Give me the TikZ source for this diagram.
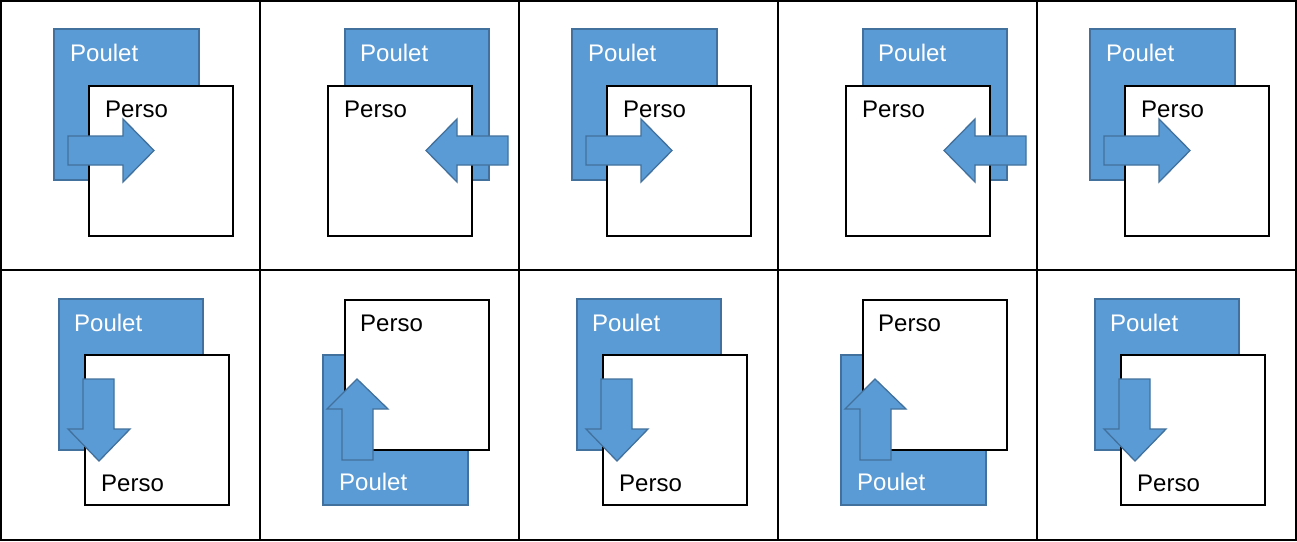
\documentclass[tikz,border=0pt]{standalone}
\usepackage{fontspec}
\setmainfont{Liberation Sans}
\definecolor{pfill}{HTML}{5B9BD5}
\definecolor{pdraw}{HTML}{41719C}
\tikzset{
  pouletbox/.style={fill=pfill,draw=pdraw,line width=1.5pt},
  persobox/.style={fill=white,draw=black,line width=2pt},
  arrowshape/.style={fill=pfill,draw=pdraw,line width=1.3pt,line join=miter},
  lbl/.style={anchor=base west,inner sep=0pt,font=\fontsize{24}{28}\selectfont},
  grid/.style={draw=black,line width=2pt}
}
\newcommand{\mycellR}[2]{%
  \begin{scope}[shift={(#1,0)}]
    \draw[pouletbox] (54,29) rectangle (199,180);
    \node[lbl,text=white] (poulet#2) at (70,61) {Poulet};
    \draw[persobox] (89,86) rectangle (233,236);
    \node[lbl] (perso#2) at (105,117) {Perso};
    \draw[arrowshape] (68,136) -- (123,136) -- (123,119) -- (154,150.5) -- (123,182) -- (123,165) -- (68,165) -- cycle;
  \end{scope}}
\newcommand{\mycellL}[2]{%
  \begin{scope}[shift={(#1,0)}]
    \draw[pouletbox] (86,29) rectangle (230,180);
    \node[lbl,text=white] (poulet#2) at (101,61) {Poulet};
    \draw[persobox] (69,86) rectangle (213,236);
    \node[lbl] (perso#2) at (85,117) {Perso};
    \draw[arrowshape] (249,136) -- (198,136) -- (198,119) -- (167,150.5) -- (198,182) -- (198,165) -- (249,165) -- cycle;
  \end{scope}}
\newcommand{\mycellD}[2]{%
  \begin{scope}[shift={(#1,0)}]
    \draw[pouletbox] (59,299) rectangle (203,450);
    \node[lbl,text=white] (poulet#2) at (74,331) {Poulet};
    \draw[persobox] (85,355) rectangle (229,505);
    \node[lbl] (perso#2) at (101,491) {Perso};
    \draw[arrowshape] (83,379) -- (114,379) -- (114,429) -- (130,429) -- (99,461) -- (68,429) -- (83,429) -- cycle;
  \end{scope}}
\newcommand{\mycellU}[2]{%
  \begin{scope}[shift={(#1,0)}]
    \draw[pouletbox] (64,355) rectangle (209,505);
    \node[lbl,text=white] (poulet#2) at (80,490) {Poulet};
    \draw[persobox] (86,300) rectangle (230,450);
    \node[lbl] (perso#2) at (101,331) {Perso};
    \draw[arrowshape] (98,379) -- (129,409) -- (114,409) -- (114,460) -- (83,460) -- (83,409) -- (68,409) -- cycle;
  \end{scope}}
\begin{document}
\begin{tikzpicture}[x=1pt,y=-1pt]
  \useasboundingbox (0,0) rectangle (1297,541);
  \fill[white] (0,0) rectangle (1297,541);
  \mycellR{0}{a}
  \mycellL{259}{b}
  \mycellR{518}{c}
  \mycellL{777}{d}
  \mycellR{1036}{e}
  \mycellD{0}{f}
  \mycellU{259}{g}
  \mycellD{518}{h}
  \mycellU{777}{i}
  \mycellD{1036}{j}
  \draw[grid] (1,1) rectangle (1296,540);
  \draw[grid] (0,270) -- (1297,270);
  \foreach \gx in {260,519,778,1037} \draw[grid] (\gx,0) -- (\gx,541);
\end{tikzpicture}
\end{document}
